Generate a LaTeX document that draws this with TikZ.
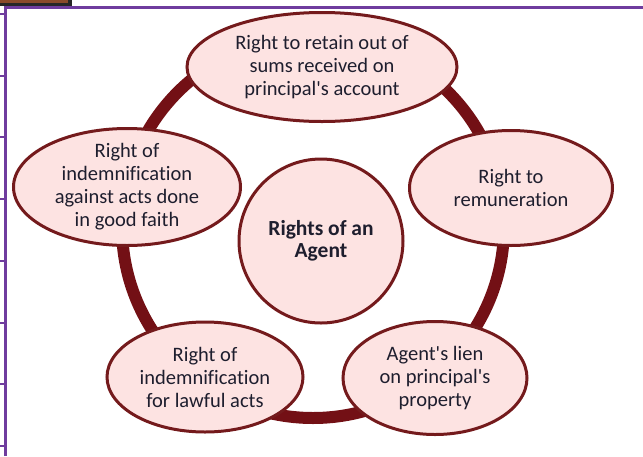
\documentclass[tikz,border=0pt]{standalone}
\usepackage{fontspec}
\setmainfont{Carlito}[Ligatures={TeXOff,NoCommon}]
\usepackage{xcolor}
\usetikzlibrary{shapes.geometric}
\definecolor{ringred}{HTML}{731015}
\definecolor{edgered}{HTML}{741A1C}
\definecolor{petal}{HTML}{FDE3E2}
\definecolor{framepurple}{HTML}{6F3C9E}
\definecolor{inktext}{HTML}{1E1E2E}
\definecolor{barbrown}{HTML}{8A4A2A}
\tikzset{
  rightbox/.style={ellipse, draw=edgered, line width=3pt, fill=petal,
    text=inktext, align=center, inner xsep=0pt, inner ysep=-12pt,
    font=\fontsize{20.5}{23}\selectfont},
  hub/.style={circle, draw=edgered, line width=3pt, fill=petal,
    text=inktext, align=center, inner sep=0pt, minimum size=164pt,
    font=\fontsize{21.5}{22}\selectfont\bfseries}
}
\begin{document}
\begin{tikzpicture}[x=1pt,y=-1pt]
            \useasboundingbox (0,0) rectangle (643,456);

            \fill[black!85] (0,0) rectangle (72,6);
            \fill[barbrown] (0,0) rectangle (68,2.5);
            \draw[framepurple,line width=3pt] (5,456) -- (5,7) -- (643,7);
            \foreach \y in {14,76,137,199,261,323,384,446}
              \draw[framepurple,line width=1.5pt] (0,\y) -- (5,\y);

            \draw[ringred,line width=12pt] (313,227) circle[radius=191];

            \node[hub] (agent) at (321,241) {Rights of an\\Agent};
            \node[rightbox,minimum width=270pt,minimum height=109pt] (retain) at (322,67)
              {Right to retain out of\\sums received on\\principal's account};
            \node[rightbox,minimum width=203pt,minimum height=115pt] (remun) at (511,188)
              {Right to\\remuneration};
            \node[rightbox,minimum width=184pt,minimum height=113pt] (lien) at (435,378)
              {Agent's lien\\on principal's\\property};
            \node[rightbox,minimum width=196pt,minimum height=110pt] (lawful) at (205,377)
              {Right of\\indemnification\\for lawful acts};
            \node[rightbox,minimum width=227pt,minimum height=117pt] (faith) at (127,187)
              {Right of\\indemnification\\against acts done\\in good faith};
          \end{tikzpicture}
\end{document}
